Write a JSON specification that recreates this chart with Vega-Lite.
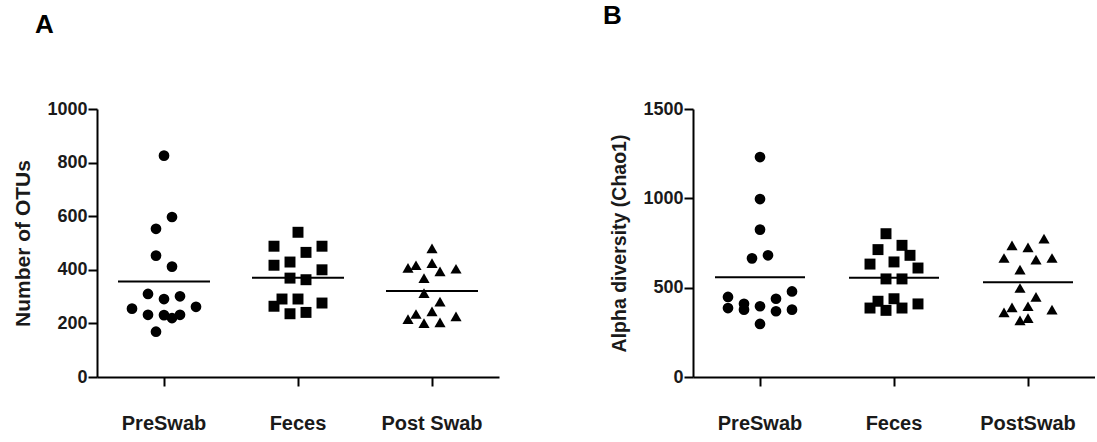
{
  "$schema": "https://vega.github.io/schema/vega-lite/v6.json",
  "background": "white",
  "padding": {"left": 12, "top": 3, "right": 0, "bottom": 0},
  "spacing": 104,
  "datasets": {
    "otus": [
      {"group": "PreSwab", "value": 826, "jitter": 0},
      {"group": "PreSwab", "value": 597, "jitter": 1},
      {"group": "PreSwab", "value": 553, "jitter": -1},
      {"group": "PreSwab", "value": 453, "jitter": -1},
      {"group": "PreSwab", "value": 412, "jitter": 1},
      {"group": "PreSwab", "value": 310, "jitter": -2},
      {"group": "PreSwab", "value": 291, "jitter": 0},
      {"group": "PreSwab", "value": 301, "jitter": 2},
      {"group": "PreSwab", "value": 255, "jitter": -4},
      {"group": "PreSwab", "value": 262, "jitter": 4},
      {"group": "PreSwab", "value": 232, "jitter": -2},
      {"group": "PreSwab", "value": 231, "jitter": 0},
      {"group": "PreSwab", "value": 220, "jitter": 1},
      {"group": "PreSwab", "value": 232, "jitter": 2},
      {"group": "PreSwab", "value": 169, "jitter": -1},
      {"group": "Feces", "value": 540, "jitter": 0},
      {"group": "Feces", "value": 488, "jitter": -3},
      {"group": "Feces", "value": 488, "jitter": 3},
      {"group": "Feces", "value": 465, "jitter": 1},
      {"group": "Feces", "value": 417, "jitter": -3},
      {"group": "Feces", "value": 429, "jitter": -1},
      {"group": "Feces", "value": 400, "jitter": 3},
      {"group": "Feces", "value": 369, "jitter": -1},
      {"group": "Feces", "value": 363, "jitter": 1},
      {"group": "Feces", "value": 264, "jitter": -3},
      {"group": "Feces", "value": 291, "jitter": -2},
      {"group": "Feces", "value": 291, "jitter": 0},
      {"group": "Feces", "value": 276, "jitter": 3},
      {"group": "Feces", "value": 236, "jitter": -1},
      {"group": "Feces", "value": 241, "jitter": 1},
      {"group": "Post Swab", "value": 480, "jitter": 0},
      {"group": "Post Swab", "value": 407, "jitter": -3},
      {"group": "Post Swab", "value": 417, "jitter": -2},
      {"group": "Post Swab", "value": 425, "jitter": 0},
      {"group": "Post Swab", "value": 394, "jitter": 1},
      {"group": "Post Swab", "value": 404, "jitter": 3},
      {"group": "Post Swab", "value": 369, "jitter": -1},
      {"group": "Post Swab", "value": 313, "jitter": -1},
      {"group": "Post Swab", "value": 281, "jitter": 1},
      {"group": "Post Swab", "value": 245, "jitter": 0},
      {"group": "Post Swab", "value": 235, "jitter": -2},
      {"group": "Post Swab", "value": 216, "jitter": -3},
      {"group": "Post Swab", "value": 201, "jitter": -1},
      {"group": "Post Swab", "value": 204, "jitter": 1},
      {"group": "Post Swab", "value": 226, "jitter": 3}
    ],
    "chao1": [
      {"group": "PreSwab", "value": 1231, "jitter": 0},
      {"group": "PreSwab", "value": 996, "jitter": 0},
      {"group": "PreSwab", "value": 825, "jitter": 0},
      {"group": "PreSwab", "value": 664, "jitter": -1},
      {"group": "PreSwab", "value": 681, "jitter": 1},
      {"group": "PreSwab", "value": 448, "jitter": -4},
      {"group": "PreSwab", "value": 479, "jitter": 4},
      {"group": "PreSwab", "value": 438, "jitter": 2},
      {"group": "PreSwab", "value": 386, "jitter": -4},
      {"group": "PreSwab", "value": 410, "jitter": -2},
      {"group": "PreSwab", "value": 377, "jitter": -2},
      {"group": "PreSwab", "value": 396, "jitter": 0},
      {"group": "PreSwab", "value": 368, "jitter": 2},
      {"group": "PreSwab", "value": 377, "jitter": 4},
      {"group": "PreSwab", "value": 297, "jitter": 0},
      {"group": "Feces", "value": 802, "jitter": -1},
      {"group": "Feces", "value": 713, "jitter": -2},
      {"group": "Feces", "value": 737, "jitter": 1},
      {"group": "Feces", "value": 681, "jitter": 2},
      {"group": "Feces", "value": 632, "jitter": -3},
      {"group": "Feces", "value": 644, "jitter": 0},
      {"group": "Feces", "value": 610, "jitter": 3},
      {"group": "Feces", "value": 549, "jitter": -1},
      {"group": "Feces", "value": 549, "jitter": 1},
      {"group": "Feces", "value": 424, "jitter": -2},
      {"group": "Feces", "value": 438, "jitter": 0},
      {"group": "Feces", "value": 386, "jitter": -3},
      {"group": "Feces", "value": 373, "jitter": -1},
      {"group": "Feces", "value": 386, "jitter": 1},
      {"group": "Feces", "value": 409, "jitter": 3},
      {"group": "PostSwab", "value": 774, "jitter": 2},
      {"group": "PostSwab", "value": 737, "jitter": -2},
      {"group": "PostSwab", "value": 726, "jitter": 0},
      {"group": "PostSwab", "value": 666, "jitter": -3},
      {"group": "PostSwab", "value": 657, "jitter": 1},
      {"group": "PostSwab", "value": 666, "jitter": 3},
      {"group": "PostSwab", "value": 601, "jitter": -1},
      {"group": "PostSwab", "value": 498, "jitter": -1},
      {"group": "PostSwab", "value": 448, "jitter": 1},
      {"group": "PostSwab", "value": 390, "jitter": -2},
      {"group": "PostSwab", "value": 396, "jitter": 0},
      {"group": "PostSwab", "value": 362, "jitter": -3},
      {"group": "PostSwab", "value": 377, "jitter": 3},
      {"group": "PostSwab", "value": 330, "jitter": 0},
      {"group": "PostSwab", "value": 317, "jitter": -1}
    ]
  },
  "hconcat": [
    {
      "width": 402,
      "height": 268,
      "data": {"name": "otus"},
      "title": {"text": "A", "anchor": "start", "frame": "group", "dx": -62, "offset": 41, "fontSize": 26, "font": "Liberation Sans", "fontWeight": 900, "color": "black", "baseline": "alphabetic"},
      "layer": [
        {
          "mark": {"type": "point", "filled": true, "opacity": 1, "color": "black"},
          "encoding": {
            "x": {"field": "group", "type": "nominal", "sort": ["PreSwab", "Feces", "Post Swab"], "scale": {"paddingInner": 0, "paddingOuter": 0}, "axis": {"title": null}},
            "xOffset": {"field": "jitter", "type": "quantitative", "scale": {"domain": [-8.375, 8.375]}},
            "y": {"field": "value", "type": "quantitative", "scale": {"domain": [0, 1000], "nice": false}, "axis": {"title": "Number of OTUs", "values": [0, 200, 400, 600, 800, 1000], "format": "d", "titleFontSize": 21, "titlePadding": 13}},
            "shape": {"field": "group", "type": "nominal", "scale": {"domain": ["PreSwab", "Feces", "Post Swab"], "range": ["circle", "square", "triangle-up"]}, "legend": null},
            "size": {"field": "group", "type": "nominal", "scale": {"domain": ["PreSwab", "Feces", "Post Swab"], "range": [115, 125, 150]}, "legend": null}
          }
        },
        {
          "mark": {"type": "tick", "orient": "horizontal", "size": 92, "thickness": 2, "color": "black"},
          "encoding": {
            "x": {"field": "group", "type": "nominal", "sort": ["PreSwab", "Feces", "Post Swab"]},
            "y": {"aggregate": "mean", "field": "value", "type": "quantitative"}
          }
        }
      ]
    },
    {
      "width": 402,
      "height": 268,
      "data": {"name": "chao1"},
      "title": {"text": "B", "anchor": "start", "frame": "group", "dx": -90, "offset": 50, "fontSize": 26, "font": "Liberation Sans", "fontWeight": 900, "color": "black", "baseline": "alphabetic"},
      "layer": [
        {
          "mark": {"type": "point", "filled": true, "opacity": 1, "color": "black"},
          "encoding": {
            "x": {"field": "group", "type": "nominal", "sort": ["PreSwab", "Feces", "PostSwab"], "scale": {"paddingInner": 0, "paddingOuter": 0}, "axis": {"title": null}},
            "xOffset": {"field": "jitter", "type": "quantitative", "scale": {"domain": [-8.375, 8.375]}},
            "y": {"field": "value", "type": "quantitative", "scale": {"domain": [0, 1500], "nice": false}, "axis": {"title": "Alpha diversity (Chao1)", "values": [0, 500, 1000, 1500], "format": "d", "titleFontSize": 19.5, "titlePadding": 13.5}},
            "shape": {"field": "group", "type": "nominal", "scale": {"domain": ["PreSwab", "Feces", "PostSwab"], "range": ["circle", "square", "triangle-up"]}, "legend": null},
            "size": {"field": "group", "type": "nominal", "scale": {"domain": ["PreSwab", "Feces", "PostSwab"], "range": [115, 125, 150]}, "legend": null}
          }
        },
        {
          "mark": {"type": "tick", "orient": "horizontal", "size": 90, "thickness": 2, "color": "black"},
          "encoding": {
            "x": {"field": "group", "type": "nominal", "sort": ["PreSwab", "Feces", "PostSwab"]},
            "y": {"aggregate": "mean", "field": "value", "type": "quantitative"}
          }
        }
      ]
    }
  ],
  "resolve": {"scale": {"shape": "independent", "size": "independent"}},
  "config": {
    "view": {"stroke": null},
    "font": "Liberation Sans",
    "axis": {
      "domainColor": "black",
      "domainWidth": 2,
      "tickColor": "black",
      "tickWidth": 2,
      "tickSize": 9,
      "grid": false,
      "labelFont": "Liberation Sans",
      "labelFontWeight": "bold",
      "labelColor": "#1a1a1a",
      "titleFont": "Liberation Sans",
      "titleFontWeight": "bold",
      "titleColor": "#1a1a1a"
    },
    "axisY": {"labelFontSize": 18, "labelPadding": 1},
    "axisX": {"labelFontSize": 20, "labelPadding": 27, "labelAngle": 0}
  }
}
